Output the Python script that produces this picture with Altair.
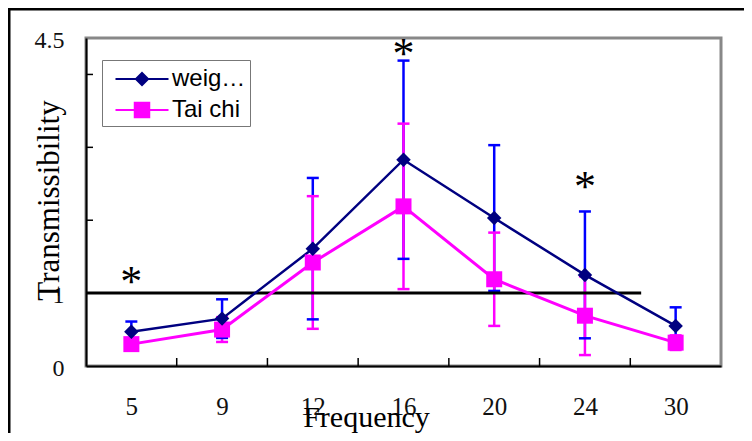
import json
import altair as alt
import pandas as pd

FREQ = ["5", "9", "12", "16", "20", "24", "30"]
SERIES = ["weig…", "Tai chi"]
WEIG_MEAN = [0.47, 0.65, 1.61, 2.83, 2.03, 1.25, 0.55]
WEIG_ERR = [0.14, 0.265, 0.97, 1.36, 1.00, 0.87, 0.255]
TAI_MEAN = [0.30, 0.50, 1.42, 2.19, 1.19, 0.69, 0.32]
TAI_ERR = [0.08, 0.17, 0.91, 1.135, 0.64, 0.54, 0.10]
STAR_FREQ = ["5", "16", "24"]
STAR_Y = [1.25, 4.38, 2.55]
Y_LABELS = [0, 1, 4.5]
Y_LABEL_TEXT = ["0", "1", "4.5"]
Y_TICKS = [1, 2, 3, 4]
REF_Y = 1
REF_X_END = 5.62

NAVY = "#000080"
BLUE = "#0000FF"
MAGENTA = "#FF00FF"

rows = []
for s, means, errs in [(SERIES[0], WEIG_MEAN, WEIG_ERR), (SERIES[1], TAI_MEAN, TAI_ERR)]:
    for i, (f, m, e) in enumerate(zip(FREQ, means, errs)):
        rows.append({"series": s, "idx": i, "freq": f, "mean": m,
                     "lo": m - e, "hi": m + e})
df = pd.DataFrame(rows)

stars = pd.DataFrame({"idx": [FREQ.index(f) for f in STAR_FREQ], "y": STAR_Y, "t": ["*"] * len(STAR_Y)})
xticks = pd.DataFrame({"idx": [i + 0.5 for i in range(len(FREQ) - 1)]})
yticks = pd.DataFrame({"y": Y_TICKS})
ref = pd.DataFrame({"x": [-0.5], "x2": [REF_X_END], "y": [REF_Y]})
one = pd.DataFrame({"a": [0]})

W, H = 635, 328
PL, PT, PR, PB = 78, 30, 23, 67

xscale = alt.Scale(domain=[-0.5, len(FREQ) - 0.5], nice=False, zero=False)
yscale = alt.Scale(domain=[0, 4.5], nice=False, zero=True)

ylab_expr = " : ".join(f"datum.value == {v} ? '{t}'" for v, t in zip(Y_LABELS, Y_LABEL_TEXT)) + " : ''"

xaxis = alt.Axis(values=list(range(len(FREQ))), labelExpr=f"{json.dumps(FREQ)}[datum.value]",
                 ticks=False, tickSize=0, grid=False, domainColor="black", domainWidth=2,
                 labelFont="Liberation Serif", labelFontSize=25, labelColor="#111",
                 labelPadding=40, labelBaseline="middle", labelFlush=False, labelOverlap=False,
                 title="Frequency", titleFont="Liberation Serif", titleFontSize=30,
                 titleFontWeight="normal", titleColor="black", titleX=280, titleY=60,
                 titleAlign="center", titleBaseline="alphabetic")
yaxis = alt.Axis(values=Y_LABELS, labelExpr=ylab_expr, ticks=False, tickSize=0, grid=False,
                 domainColor="black", domainWidth=2, labelFont="Liberation Serif",
                 labelFontSize=24, labelColor="#111", labelPadding=22, labelFlush=False,
                 labelOverlap=False, labelOffset=2, labelLimit=200,
                 title="Transmissibility", titleFont="Liberation Serif", titleFontSize=31,
                 titleFontWeight="normal", titleColor="black", titleAngle=270,
                 titleX=-28, titleY=162, titleAlign="center", titleBaseline="alphabetic")

X = lambda f="idx": alt.X(f"{f}:Q", scale=xscale, axis=xaxis)
Y = lambda f="mean": alt.Y(f"{f}:Q", scale=yscale, axis=yaxis)

layers = []

# outer frame
layers.append(alt.Chart(one).mark_rule(color="black", strokeWidth=3).encode(
    x=alt.value(-PL), x2=alt.value(W + PR), y=alt.value(-PT + 1)))
layers.append(alt.Chart(one).mark_rule(color="black", strokeWidth=3).encode(
    x=alt.value(-PL + 1), y=alt.value(-PT), y2=alt.value(H + PB)))

base = alt.Chart(df)
err_colors = {SERIES[0]: BLUE, SERIES[1]: MAGENTA}
for s in SERIES:
    layers.append(base.transform_filter(alt.datum.series == s).mark_rule(
        color=err_colors[s], strokeWidth=2.5).encode(x=X(), y=Y("lo"), y2="hi:Q"))
for s in SERIES:
    layers.append(base.transform_filter(alt.datum.series == s).transform_fold(
        ["lo", "hi"], as_=["k", "v"]).mark_tick(
        orient="horizontal", size=12, thickness=2.5, color=err_colors[s], opacity=1).encode(
        x=X(), y=Y("v")))

# reference line at 1
layers.append(alt.Chart(ref).mark_rule(color="black", strokeWidth=3).encode(
    x=X("x"), x2="x2:Q", y=Y("y")))

# inward ticks
layers.append(alt.Chart(xticks).mark_rule(color="black", strokeWidth=1.5).encode(
    x=X(), y=alt.value(H), y2=alt.value(H - 8)))
layers.append(alt.Chart(yticks).mark_rule(color="black", strokeWidth=1.5).encode(
    y=Y("y"), x=alt.value(0), x2=alt.value(7)))

# lines
layers.append(base.transform_filter(alt.datum.series == SERIES[1]).mark_line(
    color=MAGENTA, strokeWidth=3).encode(x=X(), y=Y()))
layers.append(base.transform_filter(alt.datum.series == SERIES[0]).mark_line(
    color=NAVY, strokeWidth=2.5).encode(x=X(), y=Y()))
# markers
layers.append(base.transform_filter(alt.datum.series == SERIES[1]).mark_point(
    shape="square", filled=True, size=256, color=MAGENTA, opacity=1).encode(x=X(), y=Y()))
layers.append(base.transform_filter(alt.datum.series == SERIES[0]).mark_point(
    shape="diamond", filled=True, size=210, color=NAVY, opacity=1).encode(x=X(), y=Y()))

# asterisks
layers.append(alt.Chart(stars).mark_text(font="Liberation Serif", fontSize=44, baseline="alphabetic",
                                         dy=21, color="black").encode(x=X(), y=Y("y"), text="t:N"))

# legend proxy
Lh, t, d, q = 1.767, 0.07, 0.5, 0.55
rect = f"M{-Lh},{-t}H{Lh}V{t}H{-Lh}Z"
DIAMOND_PATH = rect + f" M0,{-d}L{d},0L0,{d}L{-d},0Z"
SQUARE_PATH = rect + f" M{-q},{-q}H{q}V{q}H{-q}Z"
leg = alt.Legend(title=None, orient="none", legendX=16, legendY=22, padding=4,
                 symbolSize=900, symbolOffset=21, labelOffset=15, rowPadding=4,
                 symbolStrokeWidth=0, symbolStrokeColor="transparent",
                 labelFont="Liberation Sans", labelFontSize=24, labelColor="black",
                 strokeColor="#777", fillColor="white")
layers.append(base.transform_filter("false").mark_point(filled=True, opacity=1, size=900).encode(
    x=X(), y=Y(),
    shape=alt.Shape("series:N", scale=alt.Scale(domain=SERIES, range=[DIAMOND_PATH, SQUARE_PATH]), legend=leg),
    color=alt.Color("series:N", scale=alt.Scale(domain=SERIES, range=[NAVY, MAGENTA]), legend=leg)))

chart = alt.layer(*layers).properties(
    width=W, height=H,
    padding={"left": PL, "top": PT, "right": PR, "bottom": PB},
    autosize=alt.AutoSizeParams(type="none"),
    background="white",
).configure_view(stroke="#888888", strokeWidth=3)

chart.save("out.html", embed_options={"renderer": "svg", "actions": False})
